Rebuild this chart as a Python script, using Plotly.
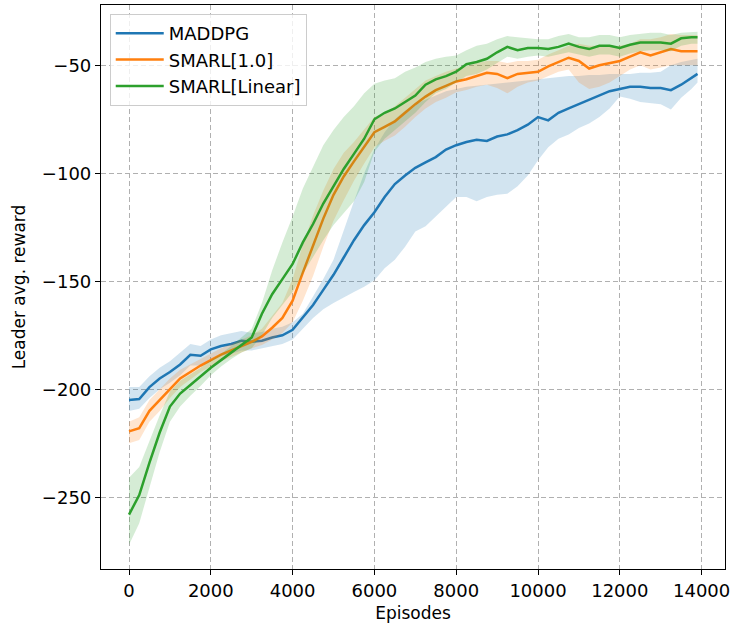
import plotly.graph_objects as go

episodes = [0, 250, 500, 750, 1000, 1250, 1500, 1750, 2000, 2250, 2500, 2750, 3000, 3250, 3500, 3750,
            4000, 4250, 4500, 4750, 5000, 5250, 5500, 5750, 6000, 6250, 6500, 6750, 7000, 7250, 7500, 7750,
            8000, 8250, 8500, 8750, 9000, 9250, 9500, 9750, 10000, 10250, 10500, 10750, 11000, 11250, 11500,
            11750, 12000, 12250, 12500, 12750, 13000, 13250, 13500, 13750, 13900]

maddpg_mean = [-205, -204.5, -199, -195, -192, -188.5, -184, -184.5, -181.5, -180, -179, -177.5, -178, -177.5, -176, -175,
               -172.5, -167, -161, -154, -147, -139, -131, -124, -118, -111, -105, -101, -97.5, -95, -92.5, -89,
               -87, -85.5, -84.5, -85, -83, -82, -80, -77.5, -74, -75.5, -72, -70, -68, -66, -64,
               -62, -61, -60, -60, -60.5, -60.5, -61.5, -59, -56, -54]
maddpg_upper = [-199, -199, -194, -190, -187, -183, -179, -180, -177, -175, -174, -173, -174, -173.5, -172, -171,
                -169, -165, -157, -149, -140, -126, -113, -100, -89, -81, -75, -71, -68, -66, -64, -62,
                -61, -60, -59.5, -59, -58.5, -58, -57.5, -57, -56.5, -56, -55.5, -55, -55, -54.5, -54.5,
                -54, -54, -54, -53.5, -53.5, -53, -50, -48.5, -47.5, -47]
maddpg_lower = [-210, -209, -204, -200, -197, -193.5, -189, -189, -186, -184.5, -183.5, -182, -182, -181, -180, -179,
                -177, -172, -167, -163, -160, -157.5, -155, -152.5, -149.5, -144, -140, -134, -127, -124.5, -120, -115.5,
                -111, -111, -113, -111, -110, -109.5, -106, -101, -94, -88, -84, -82, -79, -77, -74,
                -70, -64.5, -65.5, -67, -67.5, -68, -70.5, -65, -61, -58]

smarl10_mean = [-219.5, -218, -210, -205, -199.5, -195, -192, -189, -186.5, -184, -182, -180, -178, -175.5, -171.5, -167,
                -159, -146, -133.5, -121, -110, -101.5, -94.5, -87.5, -81, -78.5, -76, -72, -68, -64.5, -61.5, -59.5,
                -57.5, -56.5, -55, -53.5, -54, -56, -54, -53.5, -53, -50.5, -48.5, -46.5, -48, -51.5, -50,
                -49, -48, -46, -44, -45.5, -44, -42.5, -43.5, -43.5, -43.5]
smarl10_upper = [-215, -213, -205, -200, -195, -191, -188.5, -186, -183.5, -181, -179, -177, -175, -172, -166, -160,
                 -149, -133, -119.5, -108, -98, -90.5, -85.5, -79.5, -74, -72, -69, -65, -61, -57, -55, -53,
                 -51.5, -50.5, -49, -48, -48, -49, -48, -48, -47.5, -45, -43, -41, -40, -41, -41,
                 -41.5, -41, -40, -38, -38, -37, -35.5, -36, -36, -36]
smarl10_lower = [-225, -223.5, -215, -210, -204, -199, -195.5, -192, -189.5, -187, -185, -183, -181, -179.5, -177, -174,
                 -169, -159, -147.5, -134, -122, -112.5, -103.5, -95.5, -88, -85, -82.5, -78.5, -74, -70, -67, -65,
                 -62.5, -61.5, -60, -59, -60.5, -63, -60, -58, -57, -55, -53, -52, -58, -61, -60,
                 -58, -55, -52, -50, -52, -51, -50, -50, -50, -50]

smarlLin_mean = [-258, -249, -234, -220, -208, -202, -198, -194, -190, -186.5, -183, -179.5, -176, -165, -156, -149,
                 -142, -132, -123.5, -114, -106, -98, -91, -84, -75, -72, -70, -67, -64, -59, -56.5, -55,
                 -53, -49.5, -48.5, -47, -44, -41.5, -43, -42, -42, -42.5, -41.5, -40, -41.5, -42.5, -41,
                 -41, -42, -40.5, -39.5, -39.5, -39.5, -40, -37.5, -37, -37]
smarlLin_upper = [-241, -236, -224, -212, -201, -196, -193, -190, -186.5, -183.5, -180, -176, -172, -160, -145, -132,
                  -120, -107, -97, -87, -80, -74, -69, -63, -58.5, -57, -56, -53, -51, -48.5, -47, -46,
                  -45.5, -43, -41, -40, -38, -36.5, -37, -37.5, -38, -38, -36.5, -35.5, -37, -37, -36,
                  -36, -37, -36, -35.5, -35, -35, -36, -35, -34.5, -34.5]
smarlLin_lower = [-272, -262, -245, -229, -215, -208, -203, -198.5, -193.5, -189.5, -186, -183, -181, -175, -167, -161,
                  -155, -146.5, -138.5, -131, -124, -118.5, -113, -104, -90, -84, -80, -76, -72, -67, -63, -61,
                  -58, -55, -54, -52, -49, -46, -47, -46, -45.5, -46, -45, -44, -45, -46, -45,
                  -45, -46, -44.5, -43.5, -43, -43, -43.5, -41, -40, -40]

series = [
    ("MADDPG", maddpg_mean, maddpg_upper, maddpg_lower, "#1f77b4", "rgba(31,119,180,0.2)"),
    ("SMARL[1.0]", smarl10_mean, smarl10_upper, smarl10_lower, "#ff7f0e", "rgba(255,127,14,0.2)"),
    ("SMARL[Linear]", smarlLin_mean, smarlLin_upper, smarlLin_lower, "#2ca02c", "rgba(44,160,44,0.2)"),
]

x_ticks = [0, 2000, 4000, 6000, 8000, 10000, 12000, 14000]
y_ticks = [-250, -200, -150, -100, -50]
y_ticktext = ["\u2212250", "\u2212200", "\u2212150", "\u2212100", "\u221250"]

fig = go.Figure()
for name, mean, upper, lower, color, fillc in series:
    fig.add_trace(go.Scatter(
        x=episodes + episodes[::-1], y=upper + lower[::-1],
        fill="toself", fillcolor=fillc, line=dict(width=0), mode="lines",
        hoverinfo="skip", showlegend=False))
    fig.add_trace(go.Scatter(
        x=episodes, y=mean, mode="lines", name=name,
        line=dict(color=color, width=2.5)))

font = dict(family="DejaVu Sans", size=18, color="black")
title_font = dict(family="DejaVu Sans", size=17, color="black")
fig.update_layout(
    width=735, height=632,
    margin=dict(l=101, r=10, t=5, b=63),
    paper_bgcolor="white", plot_bgcolor="white",
    font=font,
    showlegend=True,
    legend=dict(x=0.014, y=0.984, xanchor="left", yanchor="top",
                bgcolor="rgba(255,255,255,0.8)", bordercolor="#cccccc", borderwidth=1,
                font=dict(family="DejaVu Sans", size=18), tracegroupgap=0, itemwidth=48),
)
fig.update_xaxes(
    range=[-685, 14572], tickvals=x_ticks, ticktext=[str(v) for v in x_ticks],
    showline=True, mirror=True, linecolor="black", linewidth=1.2,
    ticks="outside", ticklen=5, tickcolor="black", tickwidth=1.2,
    showgrid=True, gridcolor="#b0b0b0", gridwidth=1, griddash="5px,3px",
    zeroline=False, title=dict(text="Episodes", standoff=7, font=title_font),
)
fig.update_yaxes(
    range=[-283.2, -22.1], tickvals=y_ticks, ticktext=y_ticktext,
    showline=True, mirror=True, linecolor="black", linewidth=1.2,
    ticks="outside", ticklen=5, tickcolor="black", tickwidth=1.2,
    showgrid=True, gridcolor="#b0b0b0", gridwidth=1, griddash="5px,3px",
    zeroline=False, title=dict(text="Leader avg. reward", standoff=11, font=title_font),
)
fig.write_html("out.html")
